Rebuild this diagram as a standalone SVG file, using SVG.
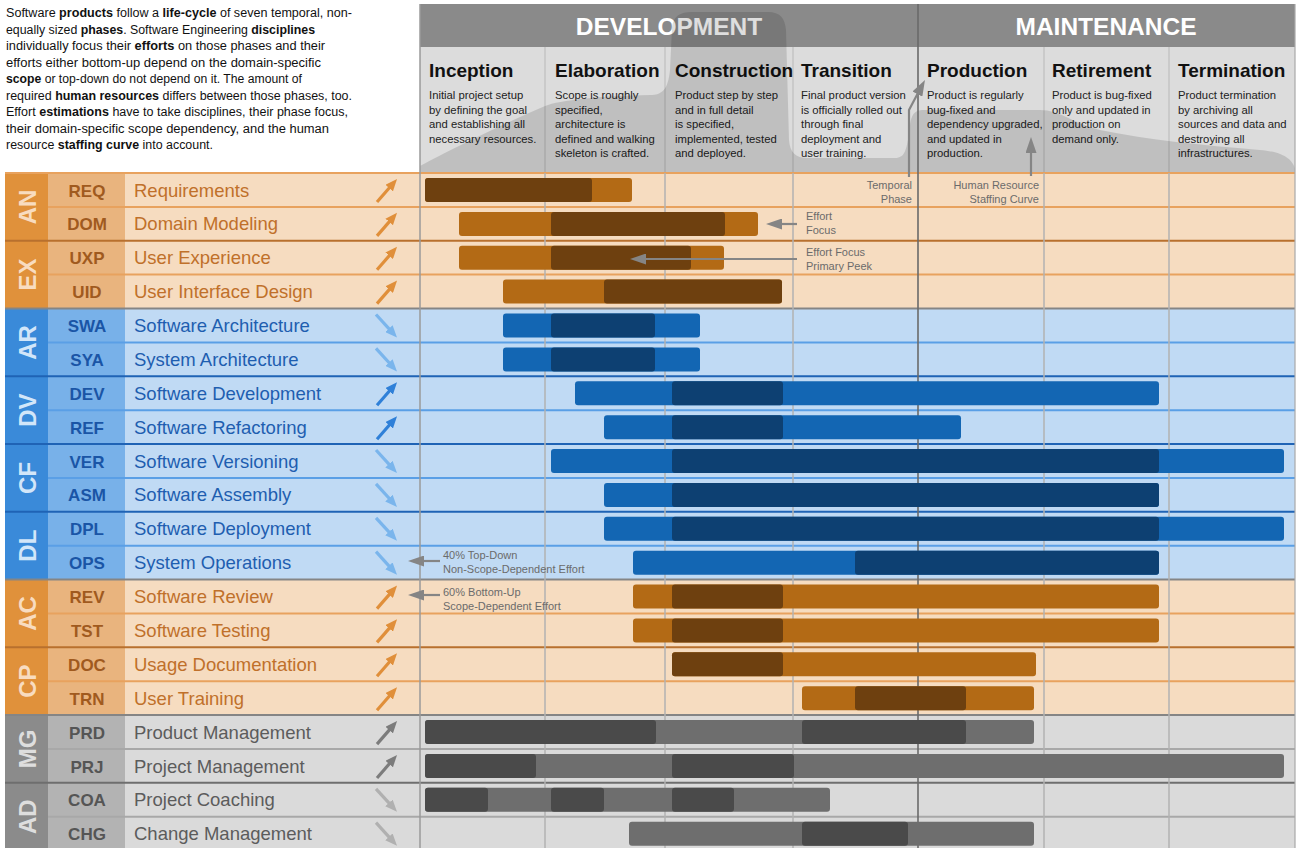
<svg xmlns="http://www.w3.org/2000/svg" width="1306" height="848" viewBox="0 0 1306 848">
<defs>
<style>
text{font-family:"Liberation Sans",Arial,sans-serif}
.para{font-size:12.5px;fill:#111}
.para .b{font-weight:bold}
.band{font-size:24.5px;font-weight:bold;fill:#fff;text-anchor:middle}
.ph{font-size:19px;font-weight:bold;fill:#111}
.pd{font-size:11.3px;fill:#222}
.gl{font-size:24px;font-weight:bold;text-anchor:middle}
.ab{font-size:17px;font-weight:bold;text-anchor:middle}
.nm{font-size:18.5px}
.ann{font-size:11px;fill:#6b6b6b}
.annr{font-size:11px;fill:#6b6b6b;text-anchor:end}
.o .g{fill:#e0913b}.o .a{fill:#e9b47e}.o .n{fill:#f6dcc0}.o .gl{fill:#f8dcc0}.o .ab{fill:#a05a1e}.o .nm{fill:#c0702a}
.b .g{fill:#3a8ad9}.b .a{fill:#78b1e9}.b .n{fill:#c0daf4}.b .gl{fill:#d2e6f9}.b .ab{fill:#1a55a6}.b .nm{fill:#1e5eb0}
.k .g{fill:#8b8b8b}.k .a{fill:#b3b3b3}.k .n{fill:#dadada}.k .gl{fill:#dedede}.k .ab{fill:#555}.k .nm{fill:#5c5c5c}
.sepo{stroke:#e8a25e;stroke-width:2}.sepod{stroke:#b8702e;stroke-width:2}
.sepb{stroke:#5a9fe6;stroke-width:2}.sepbd{stroke:#1f63b5;stroke-width:2}
.sepk{stroke:#a8a8a8;stroke-width:2}.sepkd{stroke:#6e6e6e;stroke-width:2}
.sepx{stroke:#858585;stroke-width:2}
.vl{stroke:#b2b2b2;stroke-width:1.5}
.vh{stroke:#c4c4c4;stroke-width:1.5}
.lo{fill:#b36a15}.do{fill:#6e400f}
.lb{fill:#1366b3}.db{fill:#0d4072}
.lk{fill:#6e6e6e}.dk{fill:#4a4a4a}
.ar{fill:none;stroke-width:3.2}
.aor{stroke:#e08f3a}.abl{stroke:#7ab5ec}.abd{stroke:#2f80d8}.agd{stroke:#7c7c7c}.agl{stroke:#b0b0b0}
.cn{fill:none;stroke:#858585;stroke-width:2.2}
</style>
<marker id="mor" markerUnits="userSpaceOnUse" markerWidth="12" markerHeight="10" refX="4" refY="5" orient="auto"><path d="M0,0 L12,5 L0,10 z" fill="#e08f3a"/></marker>
<marker id="mbl" markerUnits="userSpaceOnUse" markerWidth="12" markerHeight="10" refX="4" refY="5" orient="auto"><path d="M0,0 L12,5 L0,10 z" fill="#7ab5ec"/></marker>
<marker id="mbd" markerUnits="userSpaceOnUse" markerWidth="12" markerHeight="10" refX="4" refY="5" orient="auto"><path d="M0,0 L12,5 L0,10 z" fill="#2f80d8"/></marker>
<marker id="mgd" markerUnits="userSpaceOnUse" markerWidth="12" markerHeight="10" refX="4" refY="5" orient="auto"><path d="M0,0 L12,5 L0,10 z" fill="#7c7c7c"/></marker>
<marker id="mgl" markerUnits="userSpaceOnUse" markerWidth="12" markerHeight="10" refX="4" refY="5" orient="auto"><path d="M0,0 L12,5 L0,10 z" fill="#b0b0b0"/></marker>
<marker id="man" markerUnits="userSpaceOnUse" markerWidth="16" markerHeight="11" refX="2" refY="5.5" orient="auto"><path d="M0,0 L16,5.5 L0,11 z" fill="#858585"/></marker>
</defs>
<rect width="1306" height="848" fill="#fff"/>

<g id="intro">
<text class="para" x="6" y="17" textLength="346" lengthAdjust="spacingAndGlyphs">Software <tspan class="b">products</tspan> follow a <tspan class="b">life-cycle</tspan> of seven temporal, non-</text>
<text class="para" x="6" y="33.5" textLength="309" lengthAdjust="spacingAndGlyphs">equally sized <tspan class="b">phases</tspan>. Software Engineering <tspan class="b">disciplines</tspan></text>
<text class="para" x="6" y="50" textLength="319" lengthAdjust="spacingAndGlyphs">individually focus their <tspan class="b">efforts</tspan> on those phases and their</text>
<text class="para" x="6" y="66.5" textLength="315" lengthAdjust="spacingAndGlyphs">efforts either bottom-up depend on the domain-specific</text>
<text class="para" x="6" y="83" textLength="296" lengthAdjust="spacingAndGlyphs"><tspan class="b">scope</tspan> or top-down do not depend on it. The amount of</text>
<text class="para" x="6" y="99.5" textLength="346" lengthAdjust="spacingAndGlyphs">required <tspan class="b">human resources</tspan> differs between those phases, too.</text>
<text class="para" x="6" y="116" textLength="342" lengthAdjust="spacingAndGlyphs">Effort <tspan class="b">estimations</tspan> have to take disciplines, their phase focus,</text>
<text class="para" x="6" y="132.5" textLength="323" lengthAdjust="spacingAndGlyphs">their domain-specific scope dependency, and the human</text>
<text class="para" x="6" y="149" textLength="207" lengthAdjust="spacingAndGlyphs">resource <tspan class="b">staffing curve</tspan> into account.</text>
</g>

<g id="header">
<rect x="420" y="4" width="875" height="43" fill="#8a8a8a"/>
<rect x="420" y="47" width="875" height="125" fill="#dcdcdc"/>
<line class="vh" x1="545" y1="47" x2="545" y2="172"/>
<line class="vh" x1="665" y1="47" x2="665" y2="172"/>
<line class="vh" x1="793" y1="47" x2="793" y2="172"/>
<line class="vh" x1="1044" y1="47" x2="1044" y2="172"/>
<line class="vh" x1="1169" y1="47" x2="1169" y2="172"/>
<text class="band" x="669" y="35">DEVELOPMENT</text>
<text class="band" x="1106" y="35">MAINTENANCE</text>
</g>

<g id="phase-inception">
<text class="ph" x="429" y="77">Inception</text>
<text class="pd" x="429" y="99">Initial project setup</text>
<text class="pd" x="429" y="113.5">by defining the goal</text>
<text class="pd" x="429" y="128">and establishing all</text>
<text class="pd" x="429" y="142.5">necessary resources.</text>
</g>
<g id="phase-elaboration">
<text class="ph" x="555" y="77">Elaboration</text>
<text class="pd" x="555" y="99">Scope is roughly</text>
<text class="pd" x="555" y="113.5">specified,</text>
<text class="pd" x="555" y="128">architecture is</text>
<text class="pd" x="555" y="142.5">defined and walking</text>
<text class="pd" x="555" y="157">skeleton is crafted.</text>
</g>
<g id="phase-construction">
<text class="ph" x="675" y="77">Construction</text>
<text class="pd" x="675" y="99">Product step by step</text>
<text class="pd" x="675" y="113.5">and in full detail</text>
<text class="pd" x="675" y="128">is specified,</text>
<text class="pd" x="675" y="142.5">implemented, tested</text>
<text class="pd" x="675" y="157">and deployed.</text>
</g>
<g id="phase-transition">
<text class="ph" x="801" y="77">Transition</text>
<text class="pd" x="801" y="99">Final product version</text>
<text class="pd" x="801" y="113.5">is officially rolled out</text>
<text class="pd" x="801" y="128">through final</text>
<text class="pd" x="801" y="142.5">deployment and</text>
<text class="pd" x="801" y="157">user training.</text>
</g>
<g id="phase-production">
<text class="ph" x="927" y="77">Production</text>
<text class="pd" x="927" y="99">Product is regularly</text>
<text class="pd" x="927" y="113.5">bug-fixed and</text>
<text class="pd" x="927" y="128">dependency upgraded,</text>
<text class="pd" x="927" y="142.5">and updated in</text>
<text class="pd" x="927" y="157">production.</text>
</g>
<g id="phase-retirement">
<text class="ph" x="1052" y="77">Retirement</text>
<text class="pd" x="1052" y="99">Product is bug-fixed</text>
<text class="pd" x="1052" y="113.5">only and updated in</text>
<text class="pd" x="1052" y="128">production on</text>
<text class="pd" x="1052" y="142.5">demand only.</text>
</g>
<g id="phase-termination">
<text class="ph" x="1178" y="77">Termination</text>
<text class="pd" x="1178" y="99">Product termination</text>
<text class="pd" x="1178" y="113.5">by archiving all</text>
<text class="pd" x="1178" y="128">sources and data and</text>
<text class="pd" x="1178" y="142.5">destroying all</text>
<text class="pd" x="1178" y="157">infrastructures.</text>
</g>

<path id="staffing-curve" fill="#000" fill-opacity="0.13" d="M420,166 C450,150 500,125 545,106 C560,100 600,96 650,95 C662,95 668,90 670,70 L672,28 C673,16 680,12 692,12 L768,12 C780,12 785,18 786,30 L789,140 C790,152 795,158 808,158 L895,158 C905,158 907,150 910,125 C912,112 916,110 925,110 L1040,110 C1060,110 1070,122 1100,130 C1150,140 1200,145 1260,150 C1285,152 1292,160 1295,168 L1295,172 L420,172 Z"/>

<g id="group-AN" class="o">
<rect class="g" x="5" y="173" width="43" height="67.8"/><rect class="a" x="48" y="173" width="77" height="67.8"/><rect class="n" x="125" y="173" width="1170" height="67.8"/>
<text class="gl" transform="translate(27.5,206.9) rotate(-90)" y="8.5">AN</text>
</g>
<g id="group-EX" class="o">
<rect class="g" x="5" y="240.8" width="43" height="67.7"/><rect class="a" x="48" y="240.8" width="77" height="67.7"/><rect class="n" x="125" y="240.8" width="1170" height="67.7"/>
<text class="gl" transform="translate(27.5,274.6) rotate(-90)" y="8.5">EX</text>
</g>
<g id="group-AR" class="b">
<rect class="g" x="5" y="308.5" width="43" height="67.8"/><rect class="a" x="48" y="308.5" width="77" height="67.8"/><rect class="n" x="125" y="308.5" width="1170" height="67.8"/>
<text class="gl" transform="translate(27.5,342.4) rotate(-90)" y="8.5">AR</text>
</g>
<g id="group-DV" class="b">
<rect class="g" x="5" y="376.3" width="43" height="67.7"/><rect class="a" x="48" y="376.3" width="77" height="67.7"/><rect class="n" x="125" y="376.3" width="1170" height="67.7"/>
<text class="gl" transform="translate(27.5,410.2) rotate(-90)" y="8.5">DV</text>
</g>
<g id="group-CF" class="b">
<rect class="g" x="5" y="444" width="43" height="67.8"/><rect class="a" x="48" y="444" width="77" height="67.8"/><rect class="n" x="125" y="444" width="1170" height="67.8"/>
<text class="gl" transform="translate(27.5,477.9) rotate(-90)" y="8.5">CF</text>
</g>
<g id="group-DL" class="b">
<rect class="g" x="5" y="511.8" width="43" height="67.8"/><rect class="a" x="48" y="511.8" width="77" height="67.8"/><rect class="n" x="125" y="511.8" width="1170" height="67.8"/>
<text class="gl" transform="translate(27.5,545.7) rotate(-90)" y="8.5">DL</text>
</g>
<g id="group-AC" class="o">
<rect class="g" x="5" y="579.6" width="43" height="67.7"/><rect class="a" x="48" y="579.6" width="77" height="67.7"/><rect class="n" x="125" y="579.6" width="1170" height="67.7"/>
<text class="gl" transform="translate(27.5,613.4) rotate(-90)" y="8.5">AC</text>
</g>
<g id="group-CP" class="o">
<rect class="g" x="5" y="647.3" width="43" height="67.8"/><rect class="a" x="48" y="647.3" width="77" height="67.8"/><rect class="n" x="125" y="647.3" width="1170" height="67.8"/>
<text class="gl" transform="translate(27.5,681.2) rotate(-90)" y="8.5">CP</text>
</g>
<g id="group-MG" class="k">
<rect class="g" x="5" y="715.1" width="43" height="67.7"/><rect class="a" x="48" y="715.1" width="77" height="67.7"/><rect class="n" x="125" y="715.1" width="1170" height="67.7"/>
<text class="gl" transform="translate(27.5,749) rotate(-90)" y="8.5">MG</text>
</g>
<g id="group-AD" class="k">
<rect class="g" x="5" y="782.8" width="43" height="70"/><rect class="a" x="48" y="782.8" width="77" height="70"/><rect class="n" x="125" y="782.8" width="1170" height="70"/>
<text class="gl" transform="translate(27.5,816.7) rotate(-90)" y="8.5">AD</text>
</g>

<g id="grid">
<line class="sepo" x1="5" y1="173" x2="1295" y2="173"/>
<line class="sepo" x1="48" y1="206.9" x2="1295" y2="206.9"/>
<line class="sepod" x1="5" y1="240.8" x2="1295" y2="240.8"/>
<line class="sepo" x1="48" y1="274.6" x2="1295" y2="274.6"/>
<line class="sepx" x1="5" y1="308.5" x2="1295" y2="308.5"/>
<line class="sepb" x1="48" y1="342.4" x2="1295" y2="342.4"/>
<line class="sepbd" x1="5" y1="376.3" x2="1295" y2="376.3"/>
<line class="sepb" x1="48" y1="410.2" x2="1295" y2="410.2"/>
<line class="sepbd" x1="5" y1="444" x2="1295" y2="444"/>
<line class="sepb" x1="48" y1="477.9" x2="1295" y2="477.9"/>
<line class="sepbd" x1="5" y1="511.8" x2="1295" y2="511.8"/>
<line class="sepb" x1="48" y1="545.7" x2="1295" y2="545.7"/>
<line class="sepx" x1="5" y1="579.6" x2="1295" y2="579.6"/>
<line class="sepo" x1="48" y1="613.4" x2="1295" y2="613.4"/>
<line class="sepod" x1="5" y1="647.3" x2="1295" y2="647.3"/>
<line class="sepo" x1="48" y1="681.2" x2="1295" y2="681.2"/>
<line class="sepx" x1="5" y1="715.1" x2="1295" y2="715.1"/>
<line class="sepk" x1="48" y1="749" x2="1295" y2="749"/>
<line class="sepkd" x1="5" y1="782.8" x2="1295" y2="782.8"/>
<line class="sepk" x1="48" y1="816.7" x2="1295" y2="816.7"/>
<line class="vl" x1="545" y1="173" x2="545" y2="848"/>
<line class="vl" x1="665" y1="173" x2="665" y2="848"/>
<line class="vl" x1="793" y1="173" x2="793" y2="848"/>
<line class="vl" x1="1044" y1="173" x2="1044" y2="848"/>
<line class="vl" x1="1169" y1="173" x2="1169" y2="848"/>
<line stroke="#9a9a9a" stroke-width="1.5" x1="420" y1="4" x2="420" y2="848"/>
<line stroke="#a8a8a8" stroke-width="1.2" x1="1295" y1="4" x2="1295" y2="848"/>
<line stroke="#6a6a6a" stroke-width="1.6" x1="918" y1="4" x2="918" y2="848"/>
</g>

<g id="row-REQ" class="o"><text class="ab" x="87" y="196.5">REQ</text><text class="nm" x="134" y="196.5">Requirements</text><path class="ar aor" marker-end="url(#mor)" d="M377,202 L391.8,185"/><rect class="lo" x="425" y="178" width="207" height="24" rx="3"/><rect class="do" x="425" y="178" width="167" height="24" rx="3"/></g>
<g id="row-DOM" class="o"><text class="ab" x="87" y="230.4">DOM</text><text class="nm" x="134" y="230.4">Domain Modeling</text><path class="ar aor" marker-end="url(#mor)" d="M377,235.9 L391.8,218.9"/><rect class="lo" x="459" y="211.9" width="299" height="24" rx="3"/><rect class="do" x="551" y="211.9" width="174" height="24" rx="3"/></g>
<g id="row-UXP" class="o"><text class="ab" x="87" y="264.3">UXP</text><text class="nm" x="134" y="264.3">User Experience</text><path class="ar aor" marker-end="url(#mor)" d="M377,269.8 L391.8,252.8"/><rect class="lo" x="459" y="245.8" width="265" height="24" rx="3"/><rect class="do" x="551" y="245.8" width="140" height="24" rx="3"/></g>
<g id="row-UID" class="o"><text class="ab" x="87" y="298.1">UID</text><text class="nm" x="134" y="298.1">User Interface Design</text><path class="ar aor" marker-end="url(#mor)" d="M377,303.6 L391.8,286.6"/><rect class="lo" x="503" y="279.6" width="279" height="24" rx="3"/><rect class="do" x="604" y="279.6" width="178" height="24" rx="3"/></g>
<g id="row-SWA" class="b"><text class="ab" x="87" y="332">SWA</text><text class="nm" x="134" y="332">Software Architecture</text><path class="ar abl" marker-end="url(#mbl)" d="M376,314.5 L391.6,331.6"/><rect class="lb" x="503" y="313.5" width="197" height="24" rx="3"/><rect class="db" x="551" y="313.5" width="104" height="24" rx="3"/></g>
<g id="row-SYA" class="b"><text class="ab" x="87" y="365.9">SYA</text><text class="nm" x="134" y="365.9">System Architecture</text><path class="ar abl" marker-end="url(#mbl)" d="M376,348.4 L391.6,365.5"/><rect class="lb" x="503" y="347.4" width="197" height="24" rx="3"/><rect class="db" x="551" y="347.4" width="104" height="24" rx="3"/></g>
<g id="row-DEV" class="b"><text class="ab" x="87" y="399.8">DEV</text><text class="nm" x="134" y="399.8">Software Development</text><path class="ar abd" marker-end="url(#mbd)" d="M377,405.3 L391.8,388.3"/><rect class="lb" x="575" y="381.3" width="584" height="24" rx="3"/><rect class="db" x="672" y="381.3" width="111" height="24" rx="3"/></g>
<g id="row-REF" class="b"><text class="ab" x="87" y="433.7">REF</text><text class="nm" x="134" y="433.7">Software Refactoring</text><path class="ar abd" marker-end="url(#mbd)" d="M377,439.2 L391.8,422.2"/><rect class="lb" x="604" y="415.2" width="357" height="24" rx="3"/><rect class="db" x="672" y="415.2" width="111" height="24" rx="3"/></g>
<g id="row-VER" class="b"><text class="ab" x="87" y="467.5">VER</text><text class="nm" x="134" y="467.5">Software Versioning</text><path class="ar abl" marker-end="url(#mbl)" d="M376,450 L391.6,467.1"/><rect class="lb" x="551" y="449" width="733" height="24" rx="3"/><rect class="db" x="672" y="449" width="487" height="24" rx="3"/></g>
<g id="row-ASM" class="b"><text class="ab" x="87" y="501.4">ASM</text><text class="nm" x="134" y="501.4">Software Assembly</text><path class="ar abl" marker-end="url(#mbl)" d="M376,483.9 L391.6,501"/><rect class="lb" x="604" y="482.9" width="555" height="24" rx="3"/><rect class="db" x="672" y="482.9" width="487" height="24" rx="3"/></g>
<g id="row-DPL" class="b"><text class="ab" x="87" y="535.3">DPL</text><text class="nm" x="134" y="535.3">Software Deployment</text><path class="ar abl" marker-end="url(#mbl)" d="M376,517.8 L391.6,534.9"/><rect class="lb" x="604" y="516.8" width="680" height="24" rx="3"/><rect class="db" x="672" y="516.8" width="487" height="24" rx="3"/></g>
<g id="row-OPS" class="b"><text class="ab" x="87" y="569.2">OPS</text><text class="nm" x="134" y="569.2">System Operations</text><path class="ar abl" marker-end="url(#mbl)" d="M376,551.7 L391.6,568.8"/><rect class="lb" x="633" y="550.7" width="526" height="24" rx="3"/><rect class="db" x="855" y="550.7" width="304" height="24" rx="3"/></g>
<g id="row-REV" class="o"><text class="ab" x="87" y="603.1">REV</text><text class="nm" x="134" y="603.1">Software Review</text><path class="ar aor" marker-end="url(#mor)" d="M377,608.6 L391.8,591.6"/><rect class="lo" x="633" y="584.6" width="526" height="24" rx="3"/><rect class="do" x="672" y="584.6" width="111" height="24" rx="3"/></g>
<g id="row-TST" class="o"><text class="ab" x="87" y="636.9">TST</text><text class="nm" x="134" y="636.9">Software Testing</text><path class="ar aor" marker-end="url(#mor)" d="M377,642.4 L391.8,625.4"/><rect class="lo" x="633" y="618.4" width="526" height="24" rx="3"/><rect class="do" x="672" y="618.4" width="111" height="24" rx="3"/></g>
<g id="row-DOC" class="o"><text class="ab" x="87" y="670.8">DOC</text><text class="nm" x="134" y="670.8">Usage Documentation</text><path class="ar aor" marker-end="url(#mor)" d="M377,676.3 L391.8,659.3"/><rect class="lo" x="672" y="652.3" width="364" height="24" rx="3"/><rect class="do" x="672" y="652.3" width="111" height="24" rx="3"/></g>
<g id="row-TRN" class="o"><text class="ab" x="87" y="704.7">TRN</text><text class="nm" x="134" y="704.7">User Training</text><path class="ar aor" marker-end="url(#mor)" d="M377,710.2 L391.8,693.2"/><rect class="lo" x="802" y="686.2" width="232" height="24" rx="3"/><rect class="do" x="855" y="686.2" width="111" height="24" rx="3"/></g>
<g id="row-PRD" class="k"><text class="ab" x="87" y="738.6">PRD</text><text class="nm" x="134" y="738.6">Product Management</text><path class="ar agd" marker-end="url(#mgd)" d="M377,744.1 L391.8,727.1"/><rect class="lk" x="425" y="720.1" width="609" height="24" rx="3"/><rect class="dk" x="425" y="720.1" width="231" height="24" rx="3"/><rect class="dk" x="802" y="720.1" width="164" height="24" rx="3"/></g>
<g id="row-PRJ" class="k"><text class="ab" x="87" y="772.5">PRJ</text><text class="nm" x="134" y="772.5">Project Management</text><path class="ar agd" marker-end="url(#mgd)" d="M377,778 L391.8,761"/><rect class="lk" x="425" y="754" width="859" height="24" rx="3"/><rect class="dk" x="425" y="754" width="111" height="24" rx="3"/><rect class="dk" x="672" y="754" width="122" height="24" rx="3"/></g>
<g id="row-COA" class="k"><text class="ab" x="87" y="806.3">COA</text><text class="nm" x="134" y="806.3">Project Coaching</text><path class="ar agl" marker-end="url(#mgl)" d="M376,788.8 L391.6,805.9"/><rect class="lk" x="425" y="787.8" width="405" height="24" rx="3"/><rect class="dk" x="425" y="787.8" width="63" height="24" rx="3"/><rect class="dk" x="551" y="787.8" width="53" height="24" rx="3"/><rect class="dk" x="672" y="787.8" width="62" height="24" rx="3"/></g>
<g id="row-CHG" class="k"><text class="ab" x="87" y="840.2">CHG</text><text class="nm" x="134" y="840.2">Change Management</text><path class="ar agl" marker-end="url(#mgl)" d="M376,822.7 L391.6,839.8"/><rect class="lk" x="629" y="821.7" width="405" height="24" rx="3"/><rect class="dk" x="802" y="821.7" width="106" height="24" rx="3"/></g>

<g id="annotations">
<text class="annr" x="912" y="189">Temporal</text>
<text class="annr" x="912" y="203">Phase</text>
<text class="annr" x="1039" y="189">Human Resource</text>
<text class="annr" x="1039" y="203">Staffing Curve</text>
<text class="ann" x="806" y="220">Effort</text>
<text class="ann" x="806" y="234">Focus</text>
<text class="ann" x="806" y="256">Effort Focus</text>
<text class="ann" x="806" y="270">Primary Peek</text>
<text class="ann" x="443" y="559">40% Top-Down</text>
<text class="ann" x="443" y="573">Non-Scope-Dependent Effort</text>
<text class="ann" x="443" y="596">60% Bottom-Up</text>
<text class="ann" x="443" y="610">Scope-Dependent Effort</text>
</g>

<g id="connectors">
<path class="cn" marker-end="url(#man)" d="M909,177 L909,110 L918.4,92.3"/>
<path class="cn" marker-end="url(#man)" d="M1031,176 L1031,151"/>
<path class="cn" marker-end="url(#man)" d="M797,224 L780,224"/>
<path class="cn" marker-end="url(#man)" d="M797,259 L644,259"/>
<path class="cn" marker-end="url(#man)" d="M440,561 L422,561"/>
<path class="cn" marker-end="url(#man)" d="M440,595 L422,595"/>
</g>
</svg>
